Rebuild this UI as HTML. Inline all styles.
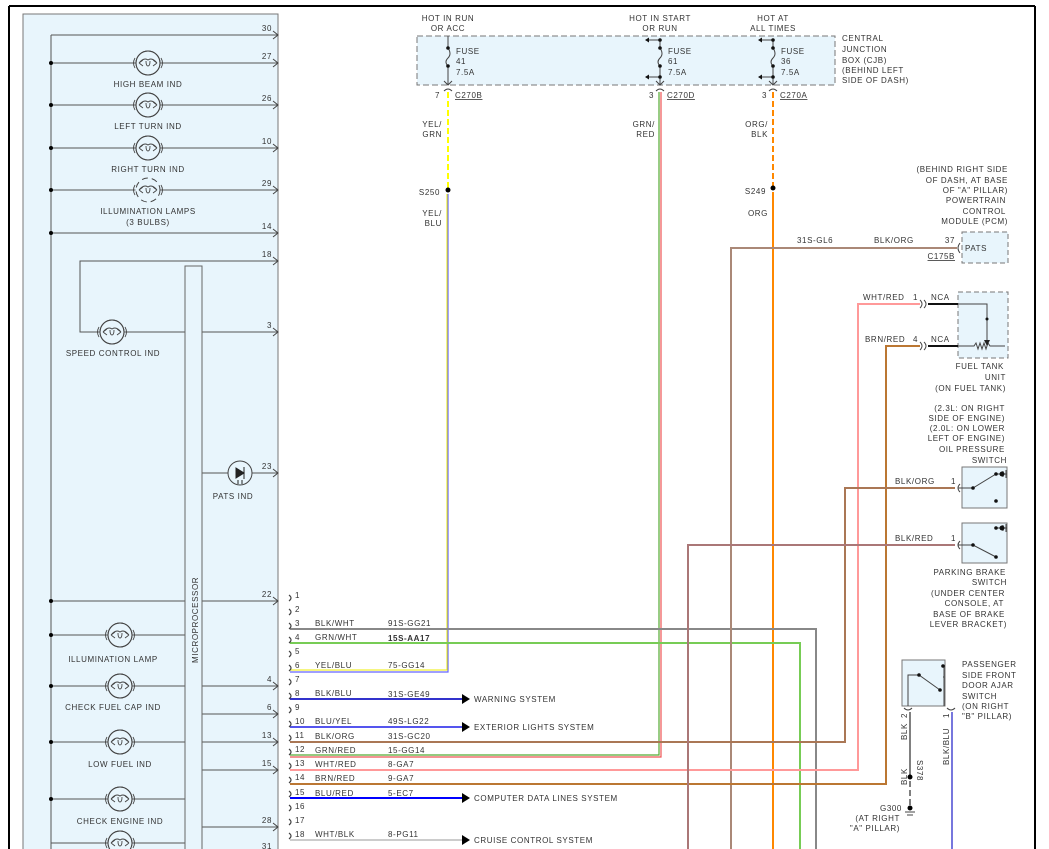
<!DOCTYPE html>
<html><head><meta charset="utf-8"><style>
html,body{margin:0;padding:0;background:#fff;}
svg{display:block;}
text{font-family:"Liberation Sans",sans-serif;font-size:8px;fill:#333;letter-spacing:0.6px;}
.r{text-anchor:end}.m{text-anchor:middle}
</style></head><body>
<svg width="1049" height="849" viewBox="0 0 1049 849" xmlns="http://www.w3.org/2000/svg">
<defs>
<g id="bulb"><circle r="12" fill="none" stroke="#444" stroke-width="1"/><path d="M-13,-5 Q-16,0 -13,5 M13,-5 Q16,0 13,5 M-9,0 L-5,-3 M-9,0 L-5,3 M9,0 L5,-3 M9,0 L5,3 M-9,0 Q-4,-6 0,-3 Q4,-6 9,0 M-2,-2 Q-2,3 0,3 Q2,3 2,-2" fill="none" stroke="#444" stroke-width="0.9"/></g>
<g id="arr"><path d="M-5,-4 L0,0 L-5,4" fill="none" stroke="#444" stroke-width="1"/></g>
<g id="pin"><path d="M-2,-6 Q2,-3 -2,0" fill="none" stroke="#444" stroke-width="1.2"/></g>
</defs>
<line x1="9" y1="6" x2="9" y2="849" stroke="#000" stroke-width="2"/>
<line x1="9" y1="6" x2="1035" y2="6" stroke="#000" stroke-width="2"/>
<line x1="1035" y1="6" x2="1035" y2="849" stroke="#000" stroke-width="2"/>
<rect x="23" y="14" width="255" height="840" fill="#e8f5fc" stroke="#777" stroke-width="1"/>
<line x1="51" y1="35" x2="51" y2="849" stroke="#555"/>
<g stroke="#555" stroke-width="1">
<line x1="51" y1="35" x2="278" y2="35"/>
<line x1="51" y1="63" x2="278" y2="63"/>
<line x1="51" y1="105" x2="278" y2="105"/>
<line x1="51" y1="148" x2="278" y2="148"/>
<line x1="51" y1="190" x2="278" y2="190"/>
<line x1="51" y1="233" x2="278" y2="233"/>
<polyline points="278,261 80,261 80,332 185,332" fill="none"/>
<line x1="202" y1="332" x2="278" y2="332"/>
<line x1="202" y1="473" x2="278" y2="473"/>
<line x1="51" y1="601" x2="185" y2="601"/><line x1="202" y1="601" x2="278" y2="601"/>
<line x1="51" y1="635" x2="185" y2="635"/>
<line x1="51" y1="686" x2="185" y2="686"/><line x1="202" y1="686" x2="278" y2="686"/>
<line x1="202" y1="714" x2="278" y2="714"/>
<line x1="51" y1="742" x2="185" y2="742"/><line x1="202" y1="742" x2="278" y2="742"/>
<line x1="202" y1="770" x2="278" y2="770"/>
<line x1="51" y1="799" x2="185" y2="799"/>
<line x1="202" y1="827" x2="278" y2="827"/>
<line x1="51" y1="843" x2="185" y2="843"/>
</g>
<g fill="#000"><circle cx="51" cy="63" r="2"/><circle cx="51" cy="105" r="2"/><circle cx="51" cy="148" r="2"/><circle cx="51" cy="190" r="2"/><circle cx="51" cy="233" r="2"/><circle cx="51" cy="601" r="2"/><circle cx="51" cy="635" r="2"/><circle cx="51" cy="686" r="2"/><circle cx="51" cy="742" r="2"/><circle cx="51" cy="799" r="2"/></g>
<rect x="185" y="266" width="17" height="590" fill="#e8f5fc" stroke="#666"/>
<text transform="translate(198,663) rotate(-90)">MICROPROCESSOR</text>
<circle cx="148" cy="63" r="12" fill="#e8f5fc" stroke="#444"/><use href="#bulb" x="148" y="63"/>
<circle cx="148" cy="105" r="12" fill="#e8f5fc" stroke="#444"/><use href="#bulb" x="148" y="105"/>
<circle cx="148" cy="148" r="12" fill="#e8f5fc" stroke="#444"/><use href="#bulb" x="148" y="148"/>
<circle cx="148" cy="190" r="12" fill="#e8f5fc" stroke="#e8f5fc"/><circle cx="148" cy="190" r="12" fill="none" stroke="#444" stroke-dasharray="6 4"/>
<path d="M135,185 Q132,190 135,195 M161,185 Q164,190 161,195 M139,190 L143,187 M139,190 L143,193 M157,190 L153,187 M157,190 L153,193 M139,190 Q144,184 148,187 Q152,184 157,190 M146,188 Q146,193 148,193 Q150,193 150,188" fill="none" stroke="#444" stroke-width="0.9"/>
<circle cx="112" cy="332" r="12" fill="#e8f5fc" stroke="#444"/><use href="#bulb" x="112" y="332"/>
<circle cx="120" cy="635" r="12" fill="#e8f5fc" stroke="#444"/><use href="#bulb" x="120" y="635"/>
<circle cx="120" cy="686" r="12" fill="#e8f5fc" stroke="#444"/><use href="#bulb" x="120" y="686"/>
<circle cx="120" cy="742" r="12" fill="#e8f5fc" stroke="#444"/><use href="#bulb" x="120" y="742"/>
<circle cx="120" cy="799" r="12" fill="#e8f5fc" stroke="#444"/><use href="#bulb" x="120" y="799"/>
<circle cx="120" cy="843" r="12" fill="#e8f5fc" stroke="#444"/><use href="#bulb" x="120" y="843"/>
<circle cx="240" cy="473" r="12" fill="#e8f5fc" stroke="#444"/>
<path d="M236,468 L244,473 L236,478 Z M244,467 L244,479 M238,480 L238,484 M242,480 L242,484" stroke="#222" fill="#222"/>
<g>
<text class="m" x="148" y="87">HIGH BEAM IND</text>
<text class="m" x="148" y="129">LEFT TURN IND</text>
<text class="m" x="148" y="172">RIGHT TURN IND</text>
<text class="m" x="148" y="214">ILLUMINATION LAMPS</text>
<text class="m" x="148" y="225">(3 BULBS)</text>
<text class="m" x="113" y="356">SPEED CONTROL IND</text>
<text class="m" x="233" y="499">PATS IND</text>
<text class="m" x="113" y="662">ILLUMINATION LAMP</text>
<text class="m" x="113" y="710">CHECK FUEL CAP IND</text>
<text class="m" x="120" y="767">LOW FUEL IND</text>
<text class="m" x="120" y="824">CHECK ENGINE IND</text>
</g>
<g>
<text class="r" x="272" y="31">30</text><text class="r" x="272" y="59">27</text><text class="r" x="272" y="101">26</text><text class="r" x="272" y="144">10</text><text class="r" x="272" y="186">29</text><text class="r" x="272" y="229">14</text><text class="r" x="272" y="257">18</text><text class="r" x="272" y="328">3</text><text class="r" x="272" y="469">23</text><text class="r" x="272" y="597">22</text><text class="r" x="272" y="682">4</text><text class="r" x="272" y="710">6</text><text class="r" x="272" y="738">13</text><text class="r" x="272" y="766">15</text><text class="r" x="272" y="823">28</text><text class="r" x="272" y="849">31</text>
</g>
<g><use href="#arr" x="278" y="35"/><use href="#arr" x="278" y="63"/><use href="#arr" x="278" y="105"/><use href="#arr" x="278" y="148"/><use href="#arr" x="278" y="190"/><use href="#arr" x="278" y="233"/><use href="#arr" x="278" y="261"/><use href="#arr" x="278" y="332"/><use href="#arr" x="278" y="473"/><use href="#arr" x="278" y="601"/><use href="#arr" x="278" y="686"/><use href="#arr" x="278" y="714"/><use href="#arr" x="278" y="742"/><use href="#arr" x="278" y="770"/><use href="#arr" x="278" y="827"/></g>

<rect x="417" y="36" width="418" height="49" fill="#e8f5fc" stroke="#777" stroke-dasharray="6 3"/>
<text class="m" x="448" y="21">HOT IN RUN</text><text class="m" x="448" y="31">OR ACC</text>
<text class="m" x="660" y="21">HOT IN START</text><text class="m" x="660" y="31">OR RUN</text>
<text class="m" x="773" y="21">HOT AT</text><text class="m" x="773" y="31">ALL TIMES</text>
<text x="842" y="41">CENTRAL</text><text x="842" y="52">JUNCTION</text><text x="842" y="63">BOX (CJB)</text><text x="842" y="73">(BEHIND LEFT</text><text x="842" y="83">SIDE OF DASH)</text>
<g stroke="#444" fill="none">
<path d="M448,36 V48 Q452,54 448,58 Q444,62 448,66 V85"/><path d="M444,81 L448,85 L452,81"/>
<path d="M660,40 V48 Q664,54 660,58 Q656,62 660,66 V85 M660,40 H646 M660,77 H646"/><path d="M656,81 L660,85 L664,81"/>
<path d="M773,40 V48 Q777,54 773,58 Q769,62 773,66 V85 M773,40 H759 M773,77 H759"/><path d="M769,81 L773,85 L777,81"/>
<path d="M444,91 Q448,87 452,91 M656,91 Q660,87 664,91 M769,91 Q773,87 777,91"/>
</g>
<g fill="#111"><circle cx="448" cy="48" r="1.8"/><circle cx="448" cy="66" r="1.8"/><circle cx="660" cy="40" r="1.8"/><circle cx="660" cy="48" r="1.8"/><circle cx="660" cy="66" r="1.8"/><circle cx="660" cy="77" r="1.8"/><circle cx="773" cy="40" r="1.8"/><circle cx="773" cy="48" r="1.8"/><circle cx="773" cy="66" r="1.8"/><circle cx="773" cy="77" r="1.8"/>
<path d="M645,40 l4,-2.5 v5z M645,77 l4,-2.5 v5z M758,40 l4,-2.5 v5z M758,77 l4,-2.5 v5z"/></g>
<text x="456" y="54">FUSE</text><text x="456" y="64">41</text><text x="456" y="75">7.5A</text>
<text x="668" y="54">FUSE</text><text x="668" y="64">61</text><text x="668" y="75">7.5A</text>
<text x="781" y="54">FUSE</text><text x="781" y="64">36</text><text x="781" y="75">7.5A</text>
<text x="435" y="98">7</text><text x="455" y="98" text-decoration="underline">C270B</text>
<text x="649" y="98">3</text><text x="667" y="98" text-decoration="underline">C270D</text>
<text x="762" y="98">3</text><text x="780" y="98" text-decoration="underline">C270A</text>
<text class="r" x="442" y="127">YEL/</text><text class="r" x="442" y="137">GRN</text>
<text class="r" x="655" y="127">GRN/</text><text class="r" x="655" y="137">RED</text>
<text class="r" x="768" y="127">ORG/</text><text class="r" x="768" y="137">BLK</text>
<text class="r" x="440" y="195">S250</text><text class="r" x="766" y="194">S249</text>
<text class="r" x="442" y="216">YEL/</text><text class="r" x="442" y="226">BLU</text>
<text class="r" x="768" y="216">ORG</text>

<line x1="448" y1="92" x2="448" y2="190" stroke="#ff0" stroke-width="2" stroke-dasharray="6 3"/>
<circle cx="448" cy="190" r="2.5" fill="#000"/>
<line x1="773" y1="92" x2="773" y2="188" stroke="#f80" stroke-width="2" stroke-dasharray="6 3"/>
<circle cx="773" cy="188" r="2.5" fill="#000"/>
<line x1="773" y1="192" x2="773" y2="849" stroke="#f80" stroke-width="2"/>
<polyline points="448,194 448,672 290,672" fill="none" stroke="#66f" stroke-width="1.2"/>
<polyline points="447,194 447,670 290,670" fill="none" stroke="#ee0" stroke-width="1"/>
<polyline points="659,92 659,755 290,755" fill="none" stroke="#5a3" stroke-width="1.2"/>
<polyline points="661,92 661,757 290,757" fill="none" stroke="#e55" stroke-width="1.2"/>
<polyline points="290,629 816,629 816,849" fill="none" stroke="#888" stroke-width="2"/>
<polyline points="290,643 800,643 800,849" fill="none" stroke="#7c5" stroke-width="2"/>
<polyline points="957,248 731,248 731,849" fill="none" stroke="#a87" stroke-width="2"/>
<polyline points="920,304 858,304 858,770 290,770" fill="none" stroke="#f99" stroke-width="2"/>
<polyline points="920,346 886,346 886,784 290,784" fill="none" stroke="#b73" stroke-width="2"/>
<polyline points="955,488 845,488 845,742 290,742" fill="none" stroke="#a75" stroke-width="2"/>
<polyline points="955,545 688,545 688,849" fill="none" stroke="#a77" stroke-width="2"/>
<line x1="290" y1="699" x2="462" y2="699" stroke="#33c" stroke-width="2"/>
<line x1="290" y1="727" x2="462" y2="727" stroke="#55e" stroke-width="2"/>
<line x1="290" y1="798" x2="462" y2="798" stroke="#00f" stroke-width="2"/>
<line x1="290" y1="840" x2="462" y2="840" stroke="#ccc" stroke-width="2"/>
<g fill="#000"><path d="M462,694 l8,5 l-8,5z M462,722 l8,5 l-8,5z M462,793 l8,5 l-8,5z M462,835 l8,5 l-8,5z"/></g>
<text x="474" y="702">WARNING SYSTEM</text>
<text x="474" y="730">EXTERIOR LIGHTS SYSTEM</text>
<text x="474" y="801">COMPUTER DATA LINES SYSTEM</text>
<text x="474" y="843">CRUISE CONTROL SYSTEM</text>
<g>
<use href="#pin" x="291" y="601"/><use href="#pin" x="291" y="615"/><use href="#pin" x="291" y="629"/><use href="#pin" x="291" y="643"/><use href="#pin" x="291" y="657"/><use href="#pin" x="291" y="671"/><use href="#pin" x="291" y="685"/><use href="#pin" x="291" y="699"/><use href="#pin" x="291" y="713"/><use href="#pin" x="291" y="727"/><use href="#pin" x="291" y="741"/><use href="#pin" x="291" y="755"/><use href="#pin" x="291" y="769"/><use href="#pin" x="291" y="783"/><use href="#pin" x="291" y="797"/><use href="#pin" x="291" y="811"/><use href="#pin" x="291" y="825"/><use href="#pin" x="291" y="839"/>
</g>
<g>
<text x="295" y="598">1</text><text x="295" y="612">2</text><text x="295" y="626">3</text><text x="295" y="640">4</text><text x="295" y="654">5</text><text x="295" y="668">6</text><text x="295" y="682">7</text><text x="295" y="696">8</text><text x="295" y="710">9</text><text x="295" y="724">10</text><text x="295" y="738">11</text><text x="295" y="752">12</text><text x="295" y="766">13</text><text x="295" y="780">14</text><text x="295" y="795">15</text><text x="295" y="809">16</text><text x="295" y="823">17</text><text x="295" y="837">18</text>
<text x="315" y="626">BLK/WHT</text><text x="388" y="626">91S-GG21</text>
<text x="315" y="640">GRN/WHT</text><text x="388" y="641" font-weight="bold" fill="#111">15S-AA17</text>
<text x="315" y="668">YEL/BLU</text><text x="388" y="668">75-GG14</text>
<text x="315" y="696">BLK/BLU</text><text x="388" y="697">31S-GE49</text>
<text x="315" y="724">BLU/YEL</text><text x="388" y="724">49S-LG22</text>
<text x="315" y="739">BLK/ORG</text><text x="388" y="739">31S-GC20</text>
<text x="315" y="753">GRN/RED</text><text x="388" y="753">15-GG14</text>
<text x="315" y="767">WHT/RED</text><text x="388" y="767">8-GA7</text>
<text x="315" y="781">BRN/RED</text><text x="388" y="781">9-GA7</text>
<text x="315" y="796">BLU/RED</text><text x="388" y="796">5-EC7</text>
<text x="315" y="837">WHT/BLK</text><text x="388" y="837">8-PG11</text>
</g>

<text class="r" x="1008" y="172">(BEHIND RIGHT SIDE</text><text class="r" x="1008" y="183">OF DASH, AT BASE</text><text class="r" x="1008" y="193">OF "A" PILLAR)</text><text class="r" x="1006" y="203">POWERTRAIN</text><text class="r" x="1006" y="214">CONTROL</text><text class="r" x="1008" y="224">MODULE (PCM)</text>
<rect x="962" y="232" width="46" height="31" fill="#e8f5fc" stroke="#777" stroke-dasharray="5 3"/>
<text x="965" y="251">PATS</text>
<path d="M960,243 Q956,248 960,253" fill="none" stroke="#444"/>
<text x="797" y="243">31S-GL6</text><text x="874" y="243">BLK/ORG</text><text class="r" x="955" y="243">37</text>
<text class="r" x="955" y="259" text-decoration="underline">C175B</text>
<rect x="958" y="292" width="50" height="66" fill="#e8f5fc" stroke="#777" stroke-dasharray="5 3"/>
<text x="863" y="300">WHT/RED</text><text x="913" y="300">1</text><text x="931" y="300">NCA</text>
<text x="865" y="342">BRN/RED</text><text x="913" y="342">4</text><text x="931" y="342">NCA</text>
<path d="M920,300 Q924,304 920,308 M924,300 Q928,304 924,308 M920,342 Q924,346 920,350 M924,342 Q928,346 924,350" fill="none" stroke="#444"/>
<line x1="928" y1="304" x2="958" y2="304" stroke="#111" stroke-width="2"/>
<line x1="928" y1="346" x2="958" y2="346" stroke="#111" stroke-width="2"/>
<path d="M958,304 H987 V345 M958,346 H974 l2,-3 l2,6 l2,-6 l2,6 l2,-6 l2,6 l2,-6 l2,3 H1005" fill="none" stroke="#444"/>
<circle cx="987" cy="319" r="1.5" fill="#111"/>
<path d="M984,340 L987,346 L990,340Z" fill="#222"/>
<text class="r" x="1004" y="369">FUEL TANK</text><text class="r" x="1006" y="380">UNIT</text><text class="r" x="1006" y="391">(ON FUEL TANK)</text>
<text class="r" x="1005" y="411">(2.3L: ON RIGHT</text><text class="r" x="1005" y="421">SIDE OF ENGINE)</text><text class="r" x="1005" y="431">(2.0L: ON LOWER</text><text class="r" x="1005" y="441">LEFT OF ENGINE)</text><text class="r" x="1005" y="452">OIL PRESSURE</text><text class="r" x="1007" y="463">SWITCH</text>
<rect x="962" y="467" width="45" height="41" fill="#e8f5fc" stroke="#777"/>
<rect x="962" y="523" width="45" height="40" fill="#e8f5fc" stroke="#777"/>
<text x="895" y="484">BLK/ORG</text><text x="951" y="484">1</text>
<text x="895" y="541">BLK/RED</text><text x="951" y="541">1</text>
<path d="M960,484 Q956,488 960,492 M960,541 Q956,545 960,549" fill="none" stroke="#444"/>
<path d="M958,488 H973 L996,474 H1007 M958,545 H973 L996,557 M1003,477 L1003,471 M1006,478 L1006,470 M995,528 H1007 M1003,531 V525 M1006,532 V524" fill="none" stroke="#444"/>
<g fill="#111"><circle cx="973" cy="488" r="1.8"/><circle cx="996" cy="474" r="1.8"/><circle cx="1002" cy="474" r="2.5"/><circle cx="996" cy="501" r="1.8"/>
<circle cx="973" cy="545" r="1.8"/><circle cx="996" cy="557" r="1.8"/><circle cx="996" cy="528" r="1.8"/><circle cx="1002" cy="528" r="2.5"/></g>
<text class="r" x="1006" y="575">PARKING BRAKE</text><text class="r" x="1007" y="585">SWITCH</text><text class="r" x="1005" y="596">(UNDER CENTER</text><text class="r" x="1004" y="606">CONSOLE, AT</text><text class="r" x="1005" y="617">BASE OF BRAKE</text><text class="r" x="1007" y="627">LEVER BRACKET)</text>
<rect x="902" y="660" width="43" height="46" fill="#e8f5fc" stroke="#777"/>
<path d="M908,706 V675 H919 L940,690 M944,706 V677 H943 M944,677 V666 H943" fill="none" stroke="#444"/>
<g fill="#111"><circle cx="919" cy="675" r="1.8"/><circle cx="940" cy="690" r="1.8"/><circle cx="943" cy="666" r="1.8"/></g>
<path d="M904,708 Q908,712 912,708 M947,708 Q951,712 955,708" fill="none" stroke="#444"/>
<text x="962" y="667">PASSENGER</text><text x="962" y="678">SIDE FRONT</text><text x="962" y="688">DOOR AJAR</text><text x="962" y="699">SWITCH</text><text x="962" y="709">(ON RIGHT</text><text x="962" y="719">"B" PILLAR)</text>
<line x1="910" y1="712" x2="910" y2="775" stroke="#555" stroke-width="1.5"/>
<circle cx="910" cy="777" r="2.5" fill="#000"/>
<line x1="910" y1="781" x2="910" y2="808" stroke="#555" stroke-width="1.5" stroke-dasharray="6 3"/>
<circle cx="910" cy="808" r="2.5" fill="#000"/><path d="M905,812 H915 M907,815 H913" stroke="#444"/>
<line x1="952" y1="712" x2="952" y2="849" stroke="#77d" stroke-width="2"/>
<text transform="translate(907,740) rotate(-90)">BLK</text><text transform="translate(907,718) rotate(-90)">2</text>
<text transform="translate(907,785) rotate(-90)">BLK</text>
<text transform="translate(917,760) rotate(90)">S378</text>
<text transform="translate(949,765) rotate(-90)">BLK/BLU</text><text transform="translate(949,718) rotate(-90)">1</text>
<text class="r" x="902" y="811">G300</text><text class="r" x="900" y="821">(AT RIGHT</text><text class="r" x="900" y="831">"A" PILLAR)</text>
</svg>
</body></html>
